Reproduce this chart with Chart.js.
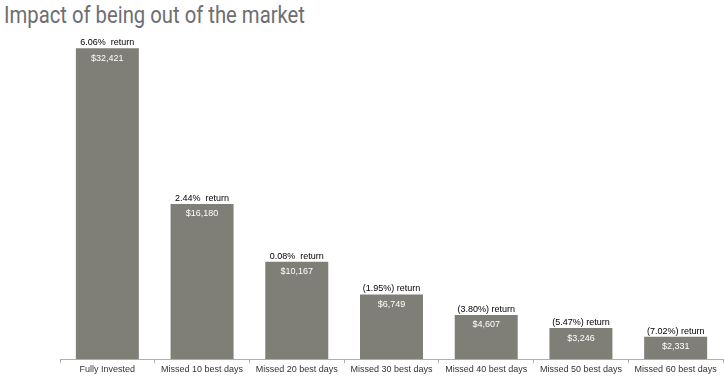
<!DOCTYPE html>
<html>
<head>
<meta charset="utf-8">
<script src="https://cdn.jsdelivr.net/npm/chart.js@4/dist/chart.umd.min.js"></script>
<style>
  html, body { margin: 0; padding: 0; background: #fff; }
  #wrap { position: relative; width: 725px; height: 378px; }
  #title {
    position: absolute; left: 4px; top: 1px;
    font-family: 'Liberation Sans Narrow', 'Roboto', sans-serif;
    font-size: 24px; color: #6d6e71; white-space: nowrap;
    transform-origin: 0 0;
  }
  canvas { position: absolute; left: 0; top: 0; }
</style>
</head>
<body>
<div id="wrap">
  <div id="title">Impact of being out of the market</div>
  <canvas id="chart" width="725" height="378"></canvas>
</div>
<script>
// Growth of $10,000 by scenario
const categories = ['Fully Invested', 'Missed 10 best days', 'Missed 20 best days', 'Missed 30 best days',
  'Missed 40 best days', 'Missed 50 best days', 'Missed 60 best days'];
const values = [32421, 16180, 10167, 6749, 4607, 3246, 2331];
const returns = ['6.06%  return', '2.44%  return', '0.08%  return', '(1.95%) return',
  '(3.80%) return', '(5.47%) return', '(7.02%) return'];

// fit title to its width in the reference
const title = document.getElementById('title');
const tw = title.getBoundingClientRect().width;
title.style.transform = `scaleX(${301 / tw})`;

const barLabels = {
  id: 'barLabels',
  afterDatasetsDraw(chart) {
    const ctx = chart.ctx;
    const meta = chart.getDatasetMeta(0);
    ctx.save();
    ctx.textAlign = 'center';
    ctx.font = '9px "Liberation Sans", Arial, sans-serif';
    meta.data.forEach((bar, i) => {
      ctx.fillStyle = '#000';
      ctx.textBaseline = 'alphabetic';
      ctx.fillText(returns[i], bar.x, bar.y - 3);
      ctx.fillStyle = '#fff';
      ctx.textBaseline = 'middle';
      ctx.fillText('$' + values[i].toLocaleString('en-US'), bar.x, bar.y + 10);
    });
    ctx.restore();
  }
};

new Chart(document.getElementById('chart'), {
  type: 'bar',
  data: {
    labels: categories,
    datasets: [{
      data: values,
      backgroundColor: '#7f7f77',
      barPercentage: 0.665,
      categoryPercentage: 1
    }]
  },
  options: {
    responsive: false,
    animation: false,
    layout: { padding: { left: 60, right: 2, top: 33, bottom: 2 } },
    plugins: {
      legend: { display: false },
      tooltip: { enabled: false }
    },
    scales: {
      x: {
        grid: {
          offset: true,
          drawOnChartArea: false,
          drawTicks: true,
          tickLength: 4,
          color: '#b0b0b0'
        },
        border: { color: '#b0b0b0' },
        ticks: {
          padding: 1,
          color: '#333',
          maxRotation: 0,
          autoSkip: false,
          font: { family: '"Liberation Sans", Arial, sans-serif', size: 9 }
        }
      },
      y: {
        display: false,
        min: 0,
        max: 34000
      }
    }
  },
  plugins: [barLabels]
});
</script>
</body>
</html>
